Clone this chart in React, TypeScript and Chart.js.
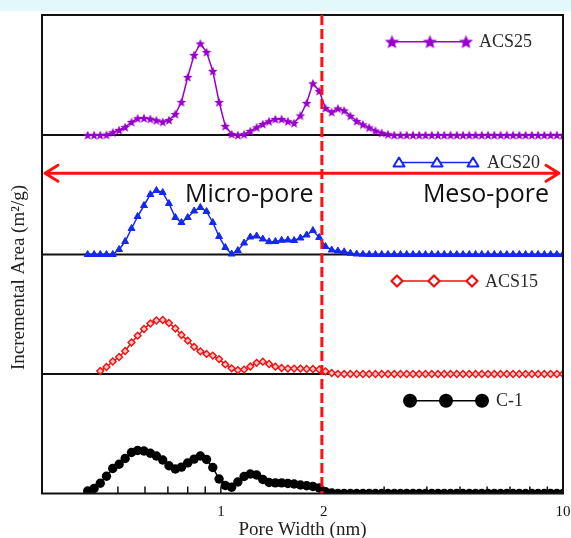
import React, { useEffect, useRef } from 'react';
import { Chart, registerables } from 'chart.js';

Chart.register(...registerables);

// Pore width grid (nm)
const PORE_WIDTH = [
  0.408, 0.426, 0.444, 0.463, 0.483, 0.504, 0.525, 0.548, 0.571, 0.596,
  0.622, 0.648, 0.676, 0.705, 0.736, 0.767, 0.800, 0.835, 0.871, 0.908,
  0.947, 0.988, 1.030, 1.075, 1.121, 1.169, 1.219, 1.272, 1.326, 1.383,
  1.443, 1.505, 1.570, 1.637, 1.708, 1.781, 1.858, 1.938, 2.021, 2.108,
  2.198, 2.293, 2.391, 2.494, 2.601, 2.713, 2.830, 2.952, 3.079, 3.211,
  3.349, 3.493, 3.643, 3.800, 3.963, 4.134, 4.311, 4.497, 4.690, 4.892,
  5.102, 5.322, 5.551, 5.789, 6.038, 6.298, 6.569, 6.851, 7.146, 7.453,
  7.774, 8.108, 8.457, 8.820, 9.200, 9.596, 10.0,
];

// Incremental area (arbitrary units), one panel per sample
const ACS25 = [
  0, 0, 0, 0.3, 2.7, 5, 8, 13, 16.7, 17,
  16.2, 14.8, 13.2, 15, 21, 33, 58, 80, 91.5, 83,
  64, 33, 9, 1, 0, 0.8, 4, 7.7, 11, 13.8,
  16, 16, 13.8, 12, 19.5, 32, 51.7, 44, 27, 23,
  26.6, 24.6, 19.2, 14, 10.6, 7.5, 4.4, 2.2, 0.8, 0,
  0, 0, 0, 0, 0, 0, 0, 0, 0, 0,
  0, 0, 0, 0, 0, 0, 0, 0, 0, 0,
  0, 0, 0, 0, 0, 0, 0,
];
const ACS20 = [
  0, 0, 0, 0, 0, 5, 13, 26, 38, 49,
  60, 64, 62, 51, 37, 32, 37, 43.5, 47, 43,
  32, 18, 7, 0.5, 4, 11.5, 17.5, 18.5, 15.5, 12.8,
  13, 14.2, 14.5, 14, 16.5, 19.5, 24, 17, 8, 4.5,
  3.5, 2.7, 1.2, 0.5, 0.2, 0, 0, 0, 0, 0,
  0, 0, 0, 0, 0, 0, 0, 0, 0, 0,
  0, 0, 0, 0, 0, 0, 0, 0, 0, 0,
  0, 0, 0, 0, 0, 0, 0,
];
const ACS15 = [
  null, null, 3, 7, 12.5, 17, 23, 31.5, 38.3, 45,
  50.5, 53.5, 54, 51, 45.5, 39, 33.3, 27.2, 22.7, 20.1,
  18.4, 14.9, 9.6, 5.7, 3.9, 4.4, 7.5, 11.2, 12.3, 10,
  7.3, 6, 5.4, 5.4, 5.4, 5, 5, 4.5, 2.7, 1,
  0.2, 0, 0, 0, 0, 0, 0, 0, 0, 0,
  0, 0, 0, 0, 0, 0, 0, 0, 0, 0,
  0, 0, 0, 0, 0, 0, 0, 0, 0, 0,
  0, 0, 0, 0, 0, 0, 0,
];
const C1 = [
  2.5, 5, 10.2, 17.3, 25, 29.2, 35, 41, 43, 42.5,
  40.2, 37.5, 33.5, 27.7, 24.5, 26.4, 30.6, 34.4, 37.5, 34,
  26, 14.5, 8, 6.3, 11.5, 17, 19.5, 18.5, 14, 11,
  10.6, 10.6, 10, 9.5, 8.5, 7.8, 7, 5.5, 1.7, 0.5,
  0, 0, 0, 0, 0, 0, 0, 0, 0, 0,
  0, 0, 0, 0, 0, 0, 0, 0, 0, 0,
  0, 0, 0, 0, 0, 0, 0, 0, 0, 0,
  0, 0, 0, 0, 0, 0, 0,
];

const SERIES_NAMES = ['ACS25', 'ACS20', 'ACS15', 'C-1'];
const SERIES_OFFSETS = [358.5, 239, 119.5, 0];
const X_TICKS = [1, 2, 10];
const MINOR_TICKS = [0.5, 0.6, 0.7, 0.8, 0.9, 1, 2, 3, 4, 5, 6, 7, 8, 9, 10];
const BOUNDARY_WIDTH = 2;
const X_TITLE = 'Pore Width (nm)';
const Y_TITLE = 'Incremental Area (m\u00B2/g)';
const MICRO_LABEL = 'Micro-pore';
const MESO_LABEL = 'Meso-pore';

const PURPLE = '#9a00cc';
const BLUE = '#1428f0';
const RED = '#f01010';
const BLACK = '#000000';
const SERIF = '"Liberation Serif", "Times New Roman", serif';
const SANS = '"Open Sans", "Noto Sans", sans-serif';

function starCanvas(r: number, color: string) {
  const s = Math.ceil(r * 2 + 2);
  const c = document.createElement('canvas');
  c.width = s;
  c.height = s;
  const ctx = c.getContext('2d')!;
  ctx.fillStyle = color;
  ctx.beginPath();
  for (let i = 0; i < 10; i++) {
    const rr = i % 2 === 0 ? r : r * 0.45;
    const a = -Math.PI / 2 + (i * Math.PI) / 5;
    const x = s / 2 + rr * Math.cos(a);
    const y = s / 2 + 0.6 + rr * Math.sin(a);
    if (i === 0) ctx.moveTo(x, y);
    else ctx.lineTo(x, y);
  }
  ctx.closePath();
  ctx.fill();
  return c;
}

function toPoints(values: (number | null)[], offset: number) {
  const pts: { x: number; y: number }[] = [];
  values.forEach((v, i) => {
    if (v !== null) pts.push({ x: PORE_WIDTH[i], y: v + offset });
  });
  return pts;
}

export default function App() {
  const ref = useRef<HTMLCanvasElement>(null);

  useEffect(() => {
    if (!ref.current) return;
    const smallStar = starCanvas(5, PURPLE);
    const bigStar = starCanvas(7.4, PURPLE);

    const legendSpecs = [
      { marks: [392, 430, 466], y: 41.7, text: 479, color: PURPLE, kind: 'star', name: SERIES_NAMES[0] },
      { marks: [399, 437, 473], y: 162.5, text: 487, color: BLUE, kind: 'tri', name: SERIES_NAMES[1] },
      { marks: [397, 434, 472], y: 281, text: 485, color: RED, kind: 'dia', name: SERIES_NAMES[2] },
      { marks: [410, 446, 482], y: 400.7, text: 496, color: BLACK, kind: 'circ', name: SERIES_NAMES[3] },
    ];

    const decor = {
      id: 'decor',
      beforeDatasetsDraw(chart: any) {
        const { ctx, chartArea: ca, scales } = chart;
        ctx.save();
        ctx.strokeStyle = '#111';
        ctx.lineWidth = 1.8;
        SERIES_OFFSETS.forEach((o) => {
          if (o === 0) return;
          const py = scales.y.getPixelForValue(o);
          ctx.beginPath();
          ctx.moveTo(ca.left, py);
          ctx.lineTo(ca.right, py);
          ctx.stroke();
        });
        ctx.restore();
      },
      afterDatasetsDraw(chart: any) {
        const { ctx, chartArea: ca, scales } = chart;
        const xs = scales.x;
        ctx.save();
        // frame
        ctx.strokeStyle = '#111';
        ctx.lineWidth = 2;
        ctx.strokeRect(ca.left, ca.top, ca.right - ca.left, ca.bottom - ca.top);
        // inward ticks
        ctx.lineWidth = 1.5;
        MINOR_TICKS.forEach((v) => {
          const px = xs.getPixelForValue(v);
          ctx.beginPath();
          ctx.moveTo(px, ca.bottom);
          ctx.lineTo(px, ca.bottom - 7);
          ctx.stroke();
        });
        // dashed boundary
        const bx = xs.getPixelForValue(BOUNDARY_WIDTH) - 2;
        ctx.strokeStyle = '#ff1010';
        ctx.lineWidth = 3;
        ctx.setLineDash([10, 4]);
        ctx.beginPath();
        ctx.moveTo(bx, ca.top);
        ctx.lineTo(bx, ca.bottom);
        ctx.stroke();
        ctx.setLineDash([]);
        // double arrow
        const ay = ca.top + 158.3;
        const ax0 = ca.left + 3;
        const ax1 = ca.right - 4;
        ctx.strokeStyle = '#ff1010';
        ctx.lineWidth = 3;
        ctx.lineCap = 'round';
        ctx.lineJoin = 'round';
        ctx.beginPath();
        ctx.moveTo(ax0, ay);
        ctx.lineTo(ax1, ay);
        ctx.moveTo(ax0 + 13, ay - 8);
        ctx.lineTo(ax0, ay);
        ctx.lineTo(ax0 + 13, ay + 8);
        ctx.moveTo(ax1 - 13, ay - 8);
        ctx.lineTo(ax1, ay);
        ctx.lineTo(ax1 - 13, ay + 8);
        ctx.stroke();
        ctx.lineCap = 'butt';
        // region labels
        ctx.fillStyle = '#111';
        ctx.font = `25px ${SANS}`;
        ctx.textBaseline = 'alphabetic';
        ctx.textAlign = 'left';
        ctx.fillText(MICRO_LABEL, 185, 201.5);
        ctx.textAlign = 'right';
        ctx.fillText(MESO_LABEL, 549, 201.5);
        // legends
        legendSpecs.forEach((L) => {
          ctx.strokeStyle = L.color;
          ctx.lineWidth = 1.5;
          ctx.beginPath();
          ctx.moveTo(L.marks[0], L.y);
          ctx.lineTo(L.marks[2], L.y);
          ctx.stroke();
          L.marks.forEach((mx) => {
            if (L.kind === 'star') {
              ctx.drawImage(bigStar, mx - bigStar.width / 2, L.y - bigStar.height / 2);
            } else if (L.kind === 'tri') {
              ctx.fillStyle = '#fff';
              ctx.strokeStyle = L.color;
              ctx.lineWidth = 2;
              ctx.beginPath();
              ctx.moveTo(mx, L.y - 5);
              ctx.lineTo(mx + 5.5, L.y + 4);
              ctx.lineTo(mx - 5.5, L.y + 4);
              ctx.closePath();
              ctx.fill();
              ctx.stroke();
            } else if (L.kind === 'dia') {
              ctx.fillStyle = '#fff';
              ctx.strokeStyle = L.color;
              ctx.lineWidth = 2.2;
              ctx.beginPath();
              ctx.moveTo(mx, L.y - 5.5);
              ctx.lineTo(mx + 5.5, L.y);
              ctx.lineTo(mx, L.y + 5.5);
              ctx.lineTo(mx - 5.5, L.y);
              ctx.closePath();
              ctx.fill();
              ctx.stroke();
            } else {
              ctx.fillStyle = L.color;
              ctx.beginPath();
              ctx.arc(mx, L.y, 7, 0, Math.PI * 2);
              ctx.fill();
            }
          });
          ctx.fillStyle = '#2a2a2a';
          ctx.font = `18px ${SERIF}`;
          ctx.textAlign = 'left';
          ctx.textBaseline = 'middle';
          ctx.fillText(L.name, L.text, L.y + 1);
        });
        // y title
        ctx.translate(19, 277.5);
        ctx.rotate(-Math.PI / 2);
        ctx.fillStyle = '#222';
        ctx.font = `19px ${SERIF}`;
        ctx.textAlign = 'center';
        ctx.textBaseline = 'middle';
        ctx.fillText(Y_TITLE, 0, 0);
        ctx.restore();
      },
    };

    const chart = new Chart(ref.current, {
      type: 'line',
      data: {
        datasets: [
          {
            label: SERIES_NAMES[0],
            data: toPoints(ACS25, SERIES_OFFSETS[0]),
            borderColor: PURPLE,
            backgroundColor: PURPLE,
            borderWidth: 1.5,
            pointStyle: smallStar as any,
            pointRadius: 4,
          },
          {
            label: SERIES_NAMES[1],
            data: toPoints(ACS20, SERIES_OFFSETS[1]),
            borderColor: BLUE,
            backgroundColor: BLUE,
            borderWidth: 1.5,
            pointStyle: 'triangle',
            pointRadius: 4,
            pointBorderWidth: 1,
          },
          {
            label: SERIES_NAMES[2],
            data: toPoints(ACS15, SERIES_OFFSETS[2]),
            borderColor: RED,
            backgroundColor: '#ffc4c4',
            borderWidth: 1.5,
            pointStyle: 'rectRot',
            pointRadius: 3.4,
            pointBorderWidth: 1.4,
          },
          {
            label: SERIES_NAMES[3],
            data: toPoints(C1, SERIES_OFFSETS[3]),
            borderColor: BLACK,
            backgroundColor: BLACK,
            borderWidth: 1.5,
            pointStyle: 'circle',
            pointRadius: 4.7,
            pointBorderWidth: 0,
          },
        ],
      },
      options: {
        animation: false,
        responsive: false,
        devicePixelRatio: 1,
        layout: { padding: { left: 42, right: 8, top: 15, bottom: 0 } },
        plugins: { legend: { display: false }, tooltip: { enabled: false } },
        elements: { line: { tension: 0 } },
        scales: {
          x: {
            type: 'logarithmic',
            min: 0.3,
            max: 10,
            grid: { display: false, drawTicks: false },
            border: { display: false },
            afterBuildTicks: (scale: any) => {
              scale.ticks = X_TICKS.map((v) => ({ value: v }));
            },
            afterFit: (scale: any) => {
              scale.height = 44.5;
              scale.paddingLeft = 0;
              scale.paddingRight = 0;
            },
            ticks: {
              autoSkip: false,
              maxRotation: 0,
              minRotation: 0,
              padding: 11,
              color: '#111',
              font: { family: SERIF, size: 15, lineHeight: 1 },
              callback: (v: any) => String(Number(v)),
            },
            title: {
              display: true,
              text: X_TITLE,
              color: '#222',
              padding: { top: 0, bottom: 0 },
              font: { family: SERIF, size: 19, lineHeight: 0.8 },
            },
          },
          y: {
            type: 'linear',
            display: false,
            min: 0,
            max: 478.5,
          },
        },
      },
      plugins: [decor],
    } as any);
    return () => chart.destroy();
  }, []);

  return (
    <div style={{ position: 'absolute', left: 0, top: 0, width: 571, height: 538, background: '#ffffff' }}>
      <div style={{ position: 'absolute', left: 0, top: 0, width: 571, height: 11, background: '#e2f8fb' }} />
      <canvas ref={ref} width={571} height={538} style={{ position: 'absolute', left: 0, top: 0, display: 'block' }} />
    </div>
  );
}
